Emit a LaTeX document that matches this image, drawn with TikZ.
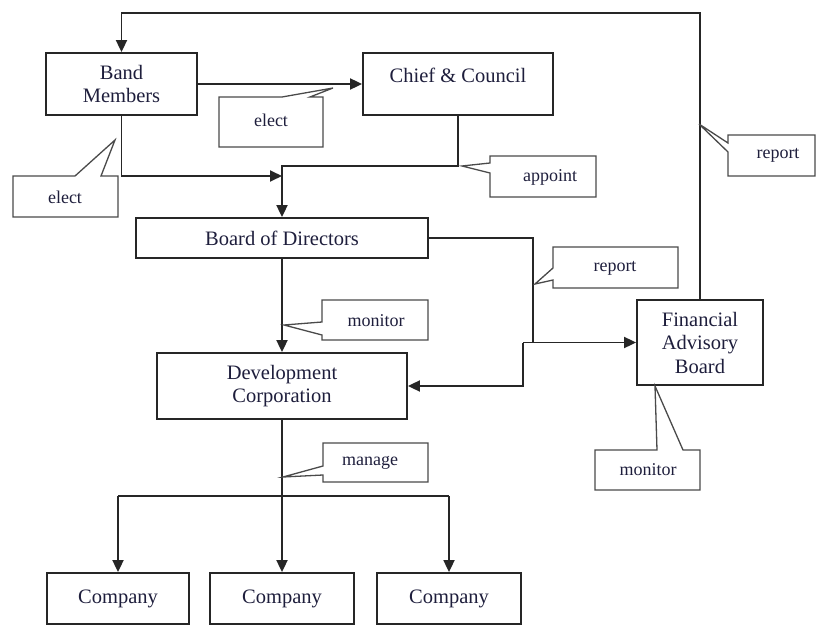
\documentclass[tikz,border=0pt]{standalone}
\usepackage{fontspec}
\setmainfont{Liberation Serif}
\usetikzlibrary{arrows.meta}
\definecolor{ln}{HTML}{262626}
\definecolor{tx}{HTML}{1E1E3C}
\definecolor{cl}{HTML}{4A4A4A}
\begin{document}
\begin{tikzpicture}[x=1pt,y=-1pt,
  box/.style={draw=ln, line width=1.8pt, text=tx, font=\fontsize{20.5}{23.5}\selectfont, align=center, inner sep=0pt},
  txt/.style={text=tx, font=\fontsize{20.5}{23.5}\selectfont, inner sep=0pt},
  wire/.style={draw=ln, line width=1.8pt},
  arr/.style={draw=ln, line width=1.8pt, -{Triangle[length=12pt,width=11pt]}},
  callout/.style={draw=cl, line width=1.3pt, line join=miter},
  ctext/.style={text=tx, font=\fontsize{18}{20}\selectfont, inner sep=0pt}]
\useasboundingbox (0,0) rectangle (817,626);

% main boxes
\node[box, minimum width=151pt, minimum height=62pt] (bm) at (121.5,84) {Band\\Members};
\node[box, minimum width=190pt, minimum height=62pt] (cc) at (458,84) {};
\node[txt] (cctxt) at (458,75) {Chief \& Council};
\node[box, minimum width=292pt, minimum height=40pt] (bod) at (282,238) {Board of Directors};
\node[box, minimum width=250pt, minimum height=66pt] (dc) at (282,386) {Development\\Corporation};
\node[box, minimum width=126pt, minimum height=85pt] (fab) at (700,342.5) {Financial\\Advisory\\Board};
\node[box, minimum width=142pt, minimum height=51pt] (c1) at (118,598.5) {Company};
\node[box, minimum width=144pt, minimum height=51pt] (c2) at (282,598.5) {Company};
\node[box, minimum width=144pt, minimum height=51pt] (c3) at (449,598.5) {Company};

% junction coordinates
\coordinate (top) at (0,13);
\coordinate (j1) at (282,176);
\coordinate (j2) at (282,166);
\coordinate (j3) at (533,342.5);
\coordinate (j4) at (523,342.5);
\coordinate (j5) at (282,496);

% connectors
\draw[arr] (fab.north) -- (fab.north |- top) -- (bm.north |- top) -- (bm.north);
\draw[arr] (bm.east) -- (cc.west);
\draw[arr] (bm.south) -- (bm.south |- j1) -- (j1);
\draw[arr] (cc.south) |- (j2) -- (bod.north);
\draw[wire] (bod.east) -| (j3);
\draw[arr] (j4) -- (fab.west);
\draw[arr] (j4) |- (dc.east);
\draw[arr] (bod.south) -- (dc.north);
\draw[wire] (dc.south) -- (j5);
\draw[wire] (c1.north |- j5) -- (c3.north |- j5);
\draw[arr] (c1.north |- j5) -- (c1.north);
\draw[arr] (j5) -- (c2.north);
\draw[arr] (c3.north |- j5) -- (c3.north);

% callouts
\draw[callout] (219,97) -- (282,97) -- (333,88) -- (310,97) -- (323,97) -- (323,147) -- (219,147) -- cycle;
\node[ctext] (elect1) at (271,120) {elect};

\draw[callout] (13,176) -- (75,176) -- (115,140) -- (101,176) -- (118,176) -- (118,217) -- (13,217) -- cycle;
\node[ctext] (elect2) at (65,197) {elect};

\draw[callout] (490,156) -- (596,156) -- (596,197) -- (490,197) -- (490,173) -- (462,166) -- (490,163) -- cycle;
\node[ctext] (appoint) at (550,177) {appoint};

\draw[callout] (728,135) -- (815,135) -- (815,176) -- (728,176) -- (728,152) -- (699,124) -- (728,143) -- cycle;
\node[ctext] (report1) at (778,155) {report};

\draw[callout] (553,247) -- (678,247) -- (678,288) -- (553,288) -- (553,280) -- (535,284) -- (553,268) -- cycle;
\node[ctext] (report2) at (615,268) {report};

\draw[callout] (322,300) -- (428,300) -- (428,340) -- (322,340) -- (322,335) -- (284,325) -- (322,322) -- cycle;
\node[ctext] (monitor1) at (376,321) {monitor};

\draw[callout] (595,450) -- (657,450) -- (655,386) -- (683,450) -- (700,450) -- (700,490) -- (595,490) -- cycle;
\node[ctext] (monitor2) at (648,470) {monitor};

\draw[callout] (323,443) -- (428,443) -- (428,482) -- (323,482) -- (323,475) -- (283,477) -- (323,466) -- cycle;
\node[ctext] (manage) at (370,463) {manage};
\end{tikzpicture}
\end{document}
